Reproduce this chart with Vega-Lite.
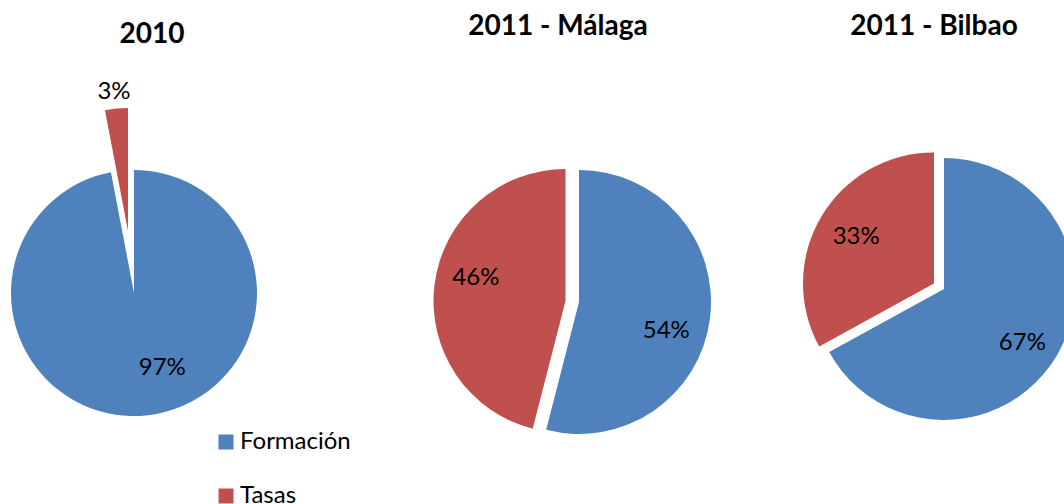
{
  "$schema": "https://vega.github.io/schema/vega-lite/v6.json",
  "background": "white",
  "padding": {"left": 0, "top": 13, "right": 0, "bottom": 0},
  "spacing": 0,
  "bounds": "flush",
  "datasets": {
    "pies": [
      {"chart": "2010", "serie": "Formación", "value": 0.97},
      {"chart": "2010", "serie": "Tasas", "value": 0.03},
      {"chart": "2011 - Málaga", "serie": "Formación", "value": 0.54},
      {"chart": "2011 - Málaga", "serie": "Tasas", "value": 0.46},
      {"chart": "2011 - Bilbao", "serie": "Formación", "value": 0.67},
      {"chart": "2011 - Bilbao", "serie": "Tasas", "value": 0.33}
    ]
  },
  "config": {
    "view": {"stroke": null},
    "font": "Lato",
    "title": {"font": "Lato", "fontSize": 28, "fontWeight": "bold", "color": "#000000", "anchor": "middle", "baseline": "alphabetic", "offset": 20}
  },
  "resolve": {"scale": {"color": "shared"}, "legend": {"color": "shared"}},
  "hconcat": [
    {
      "width": 268, "height": 464,
      "title": {"text": "2010", "dx": 18, "dy": 8},
      "data": {"name": "pies"},
      "transform": [
        {"filter": "datum.chart === '2010'"},
        {"stack": "value", "groupby": ["chart"], "sort": [{"field": "serie", "order": "ascending"}], "as": ["v0", "v1"]}
      ],
      "layer": [
        {
          "transform": [{"filter": "datum.serie === 'Formación'"}],
          "mark": {"type": "arc", "outerRadius": 123},
          "encoding": {
            "theta": {"field": "v0", "type": "quantitative", "scale": {"domain": [0, 1]}},
            "theta2": {"field": "v1"},
            "color": {"field": "serie", "type": "nominal", "scale": {"domain": ["Formación", "Tasas"], "range": ["#4F81BD", "#C0504D"]},
              "legend": {"orient": "none", "legendX": 214, "legendY": 369, "title": null, "symbolType": "square", "symbolSize": 225, "symbolStrokeWidth": 0, "labelFont": "Lato", "labelFontSize": 24, "labelColor": "#000000", "labelOffset": 2, "rowPadding": 30, "padding": 0}}
          }
        },
        {
          "transform": [{"filter": "datum.serie === 'Tasas'"}],
          "mark": {"type": "arc", "outerRadius": 123, "xOffset": -6, "yOffset": -62},
          "encoding": {
            "theta": {"field": "v0", "type": "quantitative", "scale": {"domain": [0, 1]}},
            "theta2": {"field": "v1"},
            "color": {"field": "serie", "type": "nominal"}
          }
        },
        {
          "mark": {"type": "text", "radius": 77, "dx": 21, "dy": -2, "fontSize": 24, "font": "Lato", "color": "#000000"},
          "encoding": {
            "theta": {"field": "value", "type": "quantitative", "stack": true, "scale": {"domain": [0, 1]}},
            "detail": {"field": "serie"},
            "order": {"field": "serie", "type": "ordinal", "sort": "ascending"},
            "text": {"condition": {"test": "datum.serie === 'Formación'", "field": "value", "type": "quantitative", "format": ".0%"}, "value": ""}
          }
        },
        {
          "mark": {"type": "text", "radius": 202, "dx": -1, "dy": 0, "fontSize": 24, "font": "Lato", "color": "#000000"},
          "encoding": {
            "theta": {"field": "value", "type": "quantitative", "stack": true, "scale": {"domain": [0, 1]}},
            "detail": {"field": "serie"},
            "order": {"field": "serie", "type": "ordinal", "sort": "ascending"},
            "text": {"condition": {"test": "datum.serie === 'Tasas'", "field": "value", "type": "quantitative", "format": ".0%"}, "value": ""}
          }
        }
      ]
    },
    {
      "width": 622, "height": 482,
      "title": {"text": "2011 - Málaga", "dx": -21},
      "data": {"name": "pies"},
      "transform": [
        {"filter": "datum.chart === '2011 - Málaga'"},
        {"stack": "value", "groupby": ["chart"], "sort": [{"field": "serie", "order": "ascending"}], "as": ["v0", "v1"]}
      ],
      "layer": [
        {
          "transform": [{"filter": "datum.serie === 'Formación'"}],
          "mark": {"type": "arc", "outerRadius": 132},
          "encoding": {
            "theta": {"field": "v0", "type": "quantitative", "scale": {"domain": [0, 1]}},
            "theta2": {"field": "v1"},
            "color": {"field": "serie", "type": "nominal"}
          }
        },
        {
          "transform": [{"filter": "datum.serie === 'Tasas'"}],
          "mark": {"type": "arc", "outerRadius": 132, "xOffset": -13.5, "yOffset": -1},
          "encoding": {
            "theta": {"field": "v0", "type": "quantitative", "scale": {"domain": [0, 1]}},
            "theta2": {"field": "v1"},
            "color": {"field": "serie", "type": "nominal"}
          }
        },
        {
          "mark": {"type": "text", "radius": 88, "dx": 0, "dy": 18, "fontSize": 24, "font": "Lato", "color": "#000000"},
          "encoding": {
            "theta": {"field": "value", "type": "quantitative", "stack": true, "scale": {"domain": [0, 1]}},
            "detail": {"field": "serie"},
            "order": {"field": "serie", "type": "ordinal", "sort": "ascending"},
            "text": {"condition": {"test": "datum.serie === 'Formación'", "field": "value", "type": "quantitative", "format": ".0%"}, "value": ""}
          }
        },
        {
          "mark": {"type": "text", "radius": 104, "dx": 0, "dy": -11, "fontSize": 24, "font": "Lato", "color": "#000000"},
          "encoding": {
            "theta": {"field": "value", "type": "quantitative", "stack": true, "scale": {"domain": [0, 1]}},
            "detail": {"field": "serie"},
            "order": {"field": "serie", "type": "ordinal", "sort": "ascending"},
            "text": {"condition": {"test": "datum.serie === 'Tasas'", "field": "value", "type": "quantitative", "format": ".0%"}, "value": ""}
          }
        }
      ]
    },
    {
      "width": 108, "height": 456,
      "title": {"text": "2011 - Bilbao", "dx": -10},
      "data": {"name": "pies"},
      "transform": [
        {"filter": "datum.chart === '2011 - Bilbao'"},
        {"stack": "value", "groupby": ["chart"], "sort": [{"field": "serie", "order": "ascending"}], "as": ["v0", "v1"]}
      ],
      "layer": [
        {
          "transform": [{"filter": "datum.serie === 'Formación'"}],
          "mark": {"type": "arc", "outerRadius": 131},
          "encoding": {
            "theta": {"field": "v0", "type": "quantitative", "scale": {"domain": [0, 1]}},
            "theta2": {"field": "v1"},
            "color": {"field": "serie", "type": "nominal"}
          }
        },
        {
          "transform": [{"filter": "datum.serie === 'Tasas'"}],
          "mark": {"type": "arc", "outerRadius": 131, "xOffset": -10, "yOffset": -5.6},
          "encoding": {
            "theta": {"field": "v0", "type": "quantitative", "scale": {"domain": [0, 1]}},
            "theta2": {"field": "v1"},
            "color": {"field": "serie", "type": "nominal"}
          }
        },
        {
          "mark": {"type": "text", "radius": 91, "dx": 0, "dy": 8, "fontSize": 24, "font": "Lato", "color": "#000000"},
          "encoding": {
            "theta": {"field": "value", "type": "quantitative", "stack": true, "scale": {"domain": [0, 1]}},
            "detail": {"field": "serie"},
            "order": {"field": "serie", "type": "ordinal", "sort": "ascending"},
            "text": {"condition": {"test": "datum.serie === 'Formación'", "field": "value", "type": "quantitative", "format": ".0%"}, "value": ""}
          }
        },
        {
          "mark": {"type": "text", "radius": 102, "dx": 0, "dy": 0, "fontSize": 24, "font": "Lato", "color": "#000000"},
          "encoding": {
            "theta": {"field": "value", "type": "quantitative", "stack": true, "scale": {"domain": [0, 1]}},
            "detail": {"field": "serie"},
            "order": {"field": "serie", "type": "ordinal", "sort": "ascending"},
            "text": {"condition": {"test": "datum.serie === 'Tasas'", "field": "value", "type": "quantitative", "format": ".0%"}, "value": ""}
          }
        }
      ]
    }
  ]
}
